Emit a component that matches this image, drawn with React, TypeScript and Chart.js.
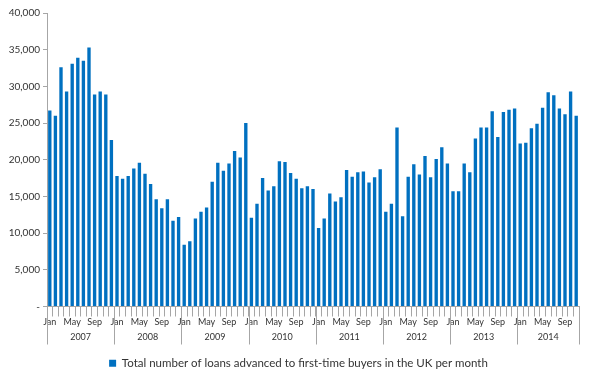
import { useEffect, useRef } from 'react';
import { Chart, registerables } from 'chart.js';

Chart.register(...registerables);

const months = ['Jan', 'Feb', 'Mar', 'Apr', 'May', 'Jun', 'Jul', 'Aug', 'Sep', 'Oct', 'Nov', 'Dec'];
const shownMonths = ['Jan', 'May', 'Sep'];
const years = ['2007', '2008', '2009', '2010', '2011', '2012', '2013', '2014'];

const loans2007 = [26700, 26000, 32600, 29300, 33100, 33900, 33500, 35300, 28900, 29300, 28900, 22700];
const loans2008 = [17800, 17400, 17800, 18800, 19600, 18100, 16700, 14600, 13400, 14600, 11700, 12200];
const loans2009 = [8400, 8900, 12000, 12900, 13500, 17000, 19600, 18500, 19500, 21200, 20300, 25000];
const loans2010 = [12100, 14000, 17500, 15800, 16400, 19800, 19700, 18200, 17400, 16100, 16400, 16000];
const loans2011 = [10700, 12000, 15400, 14300, 14900, 18600, 17700, 18300, 18400, 16900, 17600, 18700];
const loans2012 = [12900, 14000, 24400, 12300, 17700, 19400, 18000, 20500, 17600, 20100, 21700, 19500];
const loans2013 = [15700, 15700, 19500, 18300, 22900, 24400, 24400, 26600, 23100, 26500, 26800, 27000];
const loans2014 = [22200, 22300, 24300, 24900, 27100, 29200, 28800, 27000, 26200, 29300, 26000];

const yearSeries = [loans2007, loans2008, loans2009, loans2010, loans2011, loans2012, loans2013, loans2014];
const labels = yearSeries.flatMap((s) => s.map((_, i) => months[i]));
const values = yearSeries.flat();

const FONT = 'Lato';
const TEXT = '#333333';
const AXIS = '#a6a6a6';

const yearAxisPlugin = {
  id: 'yearAxis',
  afterDraw(chart: any) {
    const x = chart.scales.x;
    const ctx = chart.ctx;
    const bottom = chart.chartArea.bottom;
    const half = (x.getPixelForValue(1) - x.getPixelForValue(0)) / 2;
    const edges: number[] = [];
    let start = 0;
    yearSeries.forEach((s) => {
      edges.push(x.getPixelForValue(start) - half);
      start += s.length;
    });
    edges.push(x.getPixelForValue(start - 1) + half);
    ctx.save();
    ctx.strokeStyle = AXIS;
    ctx.lineWidth = 1;
    edges.forEach((e) => {
      const px = Math.round(e) + 0.5;
      ctx.beginPath();
      ctx.moveTo(px, bottom);
      ctx.lineTo(px, bottom + 38);
      ctx.stroke();
    });
    ctx.fillStyle = TEXT;
    ctx.font = `9px ${FONT}`;
    ctx.textAlign = 'center';
    ctx.textBaseline = 'middle';
    years.forEach((y, i) => {
      ctx.fillText(y, (edges[i] + edges[i + 1]) / 2, bottom + 31);
    });
    ctx.restore();
  },
};

export default function App() {
  const ref = useRef<HTMLCanvasElement>(null);
  useEffect(() => {
    if (!ref.current) return;
    const chart = new Chart(ref.current, {
      type: 'bar',
      data: {
        labels,
        datasets: [
          {
            label: 'Total number of loans advanced to first-time buyers in the UK per month',
            data: values,
            backgroundColor: '#0070c0',
            barPercentage: 0.6,
            categoryPercentage: 1,
            yAxisID: 'y',
          },
        ],
      },
      options: {
        animation: false,
        responsive: false,
        devicePixelRatio: 1,
        layout: { padding: { top: 13, right: 0, bottom: 2, left: 0 } },
        plugins: {
          legend: {
            position: 'bottom',
            labels: {
              boxWidth: 7,
              boxHeight: 7,
              padding: 10,
              color: TEXT,
              font: { family: FONT, size: 11.5 },
            },
          },
          tooltip: { enabled: false },
        },
        scales: {
          x: {
            afterFit(scale: any) {
              scale.height = 41;
            },
            grid: {
              display: true,
              drawOnChartArea: false,
              drawTicks: true,
              tickLength: 10,
              offset: true,
              color: AXIS,
            },
            border: { display: true, color: AXIS },
            ticks: {
              autoSkip: false,
              maxRotation: 0,
              minRotation: 0,
              padding: 0,
              color: TEXT,
              font: { family: FONT, size: 9 },
              callback: (_v: any, i: number) => (shownMonths.includes(labels[i]) ? labels[i] : ''),
            },
          },
          y: {
            min: 0,
            max: 40000,
            afterFit(scale: any) {
              scale.width = 47;
            },
            grid: {
              display: true,
              drawOnChartArea: false,
              drawTicks: true,
              tickLength: 4,
              color: AXIS,
            },
            border: { display: true, color: AXIS },
            ticks: {
              stepSize: 5000,
              padding: 3,
              color: TEXT,
              font: { family: FONT, size: 10 },
              callback: (v: any) => (Number(v) === 0 ? '-' : Number(v).toLocaleString('en-US')),
            },
          },
          spacer: {
            type: 'linear',
            position: 'right',
            display: true,
            min: 0,
            max: 40000,
            afterFit(scale: any) {
              scale.width = 18;
            },
            grid: { display: false, drawTicks: false },
            border: { display: false },
            ticks: { display: false },
          },
        },
      },
      plugins: [yearAxisPlugin],
    });
    return () => chart.destroy();
  }, []);
  return (
    <div style={{ position: 'absolute', left: 0, top: 0, width: 597, height: 381, background: '#fff' }}>
      <canvas ref={ref} width={597} height={381} />
    </div>
  );
}
